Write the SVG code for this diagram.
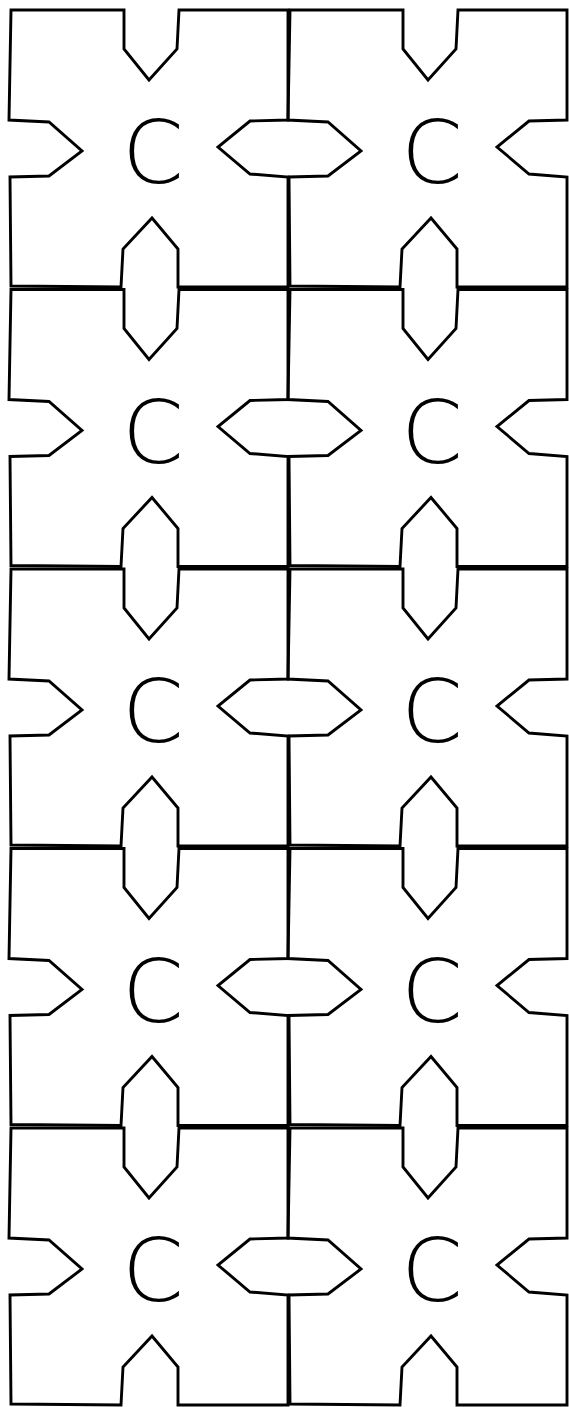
<svg xmlns="http://www.w3.org/2000/svg" width="569" height="1407" viewBox="0 0 569 1407">
<style>
.t{fill:none;stroke:#000;stroke-width:2.9;stroke-linejoin:miter}
.l{font-family:"DejaVu Sans","Liberation Sans",sans-serif;font-weight:200;font-size:88px;fill:#000;text-anchor:middle}
</style>
<defs>
<path id="tile" class="t" d="M1,0 L114,0 L114,39 L139,70 L167,39 L169,0 L278,0 L278,110 L240,111 L208,137 L240,164 L278,167 L278,277 L168,277 L168,239 L142,208 L113,239 L111,277 L1,276 L0,167 L39,166 L72,141 L39,112 L-1,110 Z"/>
</defs>
<rect width="569" height="1407" fill="#fff"/>
<g id="n1" transform="translate(10,10)"><use href="#tile"/><text class="l" x="143" y="173">C</text></g>
<g id="n2" transform="translate(289,10)"><use href="#tile"/><text class="l" x="143" y="173">C</text></g>
<g id="n3" transform="translate(10,289.5)"><use href="#tile"/><text class="l" x="143" y="173">C</text></g>
<g id="n4" transform="translate(289,289.5)"><use href="#tile"/><text class="l" x="143" y="173">C</text></g>
<g id="n5" transform="translate(10,569)"><use href="#tile"/><text class="l" x="143" y="173">C</text></g>
<g id="n6" transform="translate(289,569)"><use href="#tile"/><text class="l" x="143" y="173">C</text></g>
<g id="n7" transform="translate(10,848.5)"><use href="#tile"/><text class="l" x="143" y="173">C</text></g>
<g id="n8" transform="translate(289,848.5)"><use href="#tile"/><text class="l" x="143" y="173">C</text></g>
<g id="n9" transform="translate(10,1128)"><use href="#tile"/><text class="l" x="143" y="173">C</text></g>
<g id="n10" transform="translate(289,1128)"><use href="#tile"/><text class="l" x="143" y="173">C</text></g>
<g id="connectors"></g>
</svg>
